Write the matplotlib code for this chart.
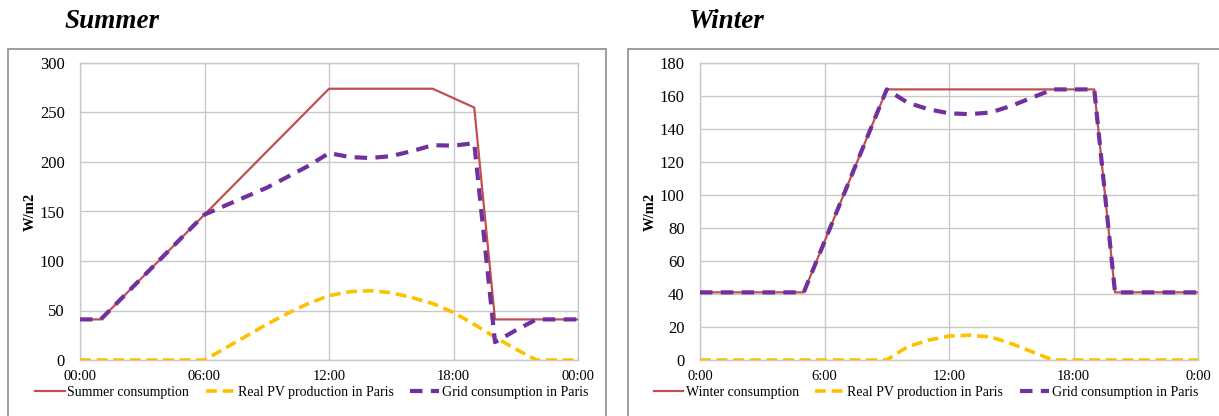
import matplotlib.pyplot as plt
from matplotlib.patches import Rectangle

plt.rcParams['font.family'] = ['Liberation Serif', 'DejaVu Serif']

hours = list(range(25))

# Summer (W/m2, hourly)
summer_cons = [41, 41, 62.2, 83.4, 104.5, 125.7, 146.9, 168.1, 189.3, 210.5, 231.6, 252.8, 274,
               274, 274, 274, 274, 274, 264.5, 255, 41, 41, 41, 41, 41]
summer_pv = [0, 0, 0, 0, 0, 0, 0, 12, 24, 36, 47, 57, 65,
             69, 70, 68, 63, 57, 48, 36, 23, 11, 0, 0, 0]
summer_grid = [41, 41, 62.2, 83.4, 104.5, 125.7, 146.9, 156, 165, 174, 185, 196, 209,
               205, 204, 206, 211, 217, 216.5, 219, 18, 30, 41, 41, 41]

# Winter (W/m2, hourly)
winter_cons = [41, 41, 41, 41, 41, 41, 71.75, 102.5, 133.25, 164, 164, 164, 164,
               164, 164, 164, 164, 164, 164, 164, 41, 41, 41, 41, 41]
winter_pv = [0, 0, 0, 0, 0, 0, 0, 0, 0, 0, 8, 12, 14.5,
             15, 14, 10, 5, 0, 0, 0, 0, 0, 0, 0, 0]
winter_grid = [41, 41, 41, 41, 41, 41, 71.75, 102.5, 133.25, 164, 156, 152, 149.5,
               149, 150, 154, 159, 164, 164, 164, 41, 41, 41, 41, 41]

summer_xlabels = ['00:00', '06:00', '12:00', '18:00', '00:00']
winter_xlabels = ['0:00', '6:00', '12:00', '18:00', '0:00']

RED = '#C0504D'
YELLOW = '#FFC000'
PURPLE = '#7030A0'
GRID = '#C8C8C8'

fig = plt.figure(figsize=(12.19, 4.16), dpi=100)

# outer chart boxes
for x0, x1 in [(8, 606), (628, 1225)]:
    fig.patches.append(Rectangle((x0 / 1219, -0.05), (x1 - x0) / 1219, 1 - 49 / 416 + 0.05,
                                 transform=fig.transFigure, fill=False,
                                 edgecolor='#8C8C8C', lw=1.2))


def draw(left, right, cons, pv, grid, cons_label, ymax, ystep, xlabels, title, title_x, leg_x):
    ax = fig.add_axes([left / 1219, 1 - 360 / 416, (right - left) / 1219, (360 - 63) / 416])
    ax.plot(hours, cons, color=RED, lw=1.6, label=cons_label, zorder=3)
    ax.plot(hours, pv, color=YELLOW, lw=2.6, ls=(0, (3, 1.6)),
            label='Real PV production in Paris', zorder=3)
    ax.plot(hours, grid, color=PURPLE, lw=3, ls=(0, (3, 2)),
            label='Grid consumption in Paris', zorder=4)
    ax.set_xlim(0, 24)
    ax.set_ylim(0, ymax)
    ax.set_xticks([0, 6, 12, 18, 24])
    ax.set_xticklabels(xlabels)
    ax.set_yticks(range(0, ymax + 1, ystep))
    ax.grid(True, color=GRID, lw=1)
    ax.tick_params(axis='x', length=0, labelsize=10.5, pad=7)
    ax.tick_params(axis='y', length=0, labelsize=12, pad=11)
    for s in ax.spines.values():
        s.set_color(GRID)
        s.set_linewidth(1)
    ax.set_ylabel('W/m2', fontweight='bold', fontsize=10.5, labelpad=2)
    ax.legend(loc='upper center', bbox_to_anchor=(leg_x / 1219, 1 - 386 / 416),
              bbox_transform=fig.transFigure, ncol=3, frameon=False,
              fontsize=10, handlelength=2.1, handletextpad=0.2, columnspacing=1.2,
              borderaxespad=0, borderpad=0)
    fig.text(title_x / 1219, 1 - 21 / 416, title, fontsize=19.5, fontweight='bold',
             fontstyle='italic', va='center', ha='left')
    return ax


draw(80, 578, summer_cons, summer_pv, summer_grid, 'Summer consumption',
     300, 50, summer_xlabels, 'Summer', 65, 312)
draw(700, 1198, winter_cons, winter_pv, winter_grid, 'Winter consumption',
     180, 20, winter_xlabels, 'Winter', 688, 926)

fig.savefig('out.png', dpi=100)
